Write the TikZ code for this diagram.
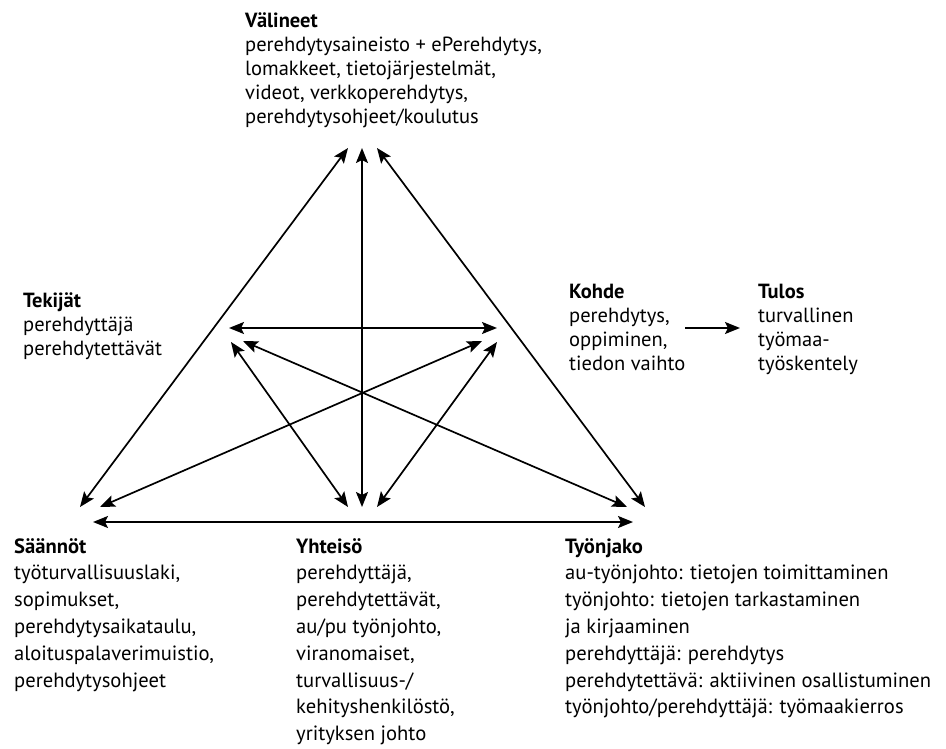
\documentclass[tikz,border=0pt]{standalone}
\usepackage{fontspec}
\setmainfont{PT Sans}
\usetikzlibrary{arrows.meta}

\tikzset{
  lbl/.style={anchor=north west, inner sep=0pt, align=left, font=\fontsize{20.5}{24}\selectfont},
  lowlbl/.style={lbl, font=\fontsize{20.6}{26.8}\selectfont},
  arrtip/.tip={Stealth[length=15pt,width=12pt,inset=3pt]},
  arr/.style={draw, arrtip-arrtip, line width=1.7pt},
  onearr/.style={-arrtip, line width=1.7pt},
}

\begin{document}
\begin{tikzpicture}[x=1pt,y=-1pt]
    \useasboundingbox (0,0) rectangle (946,749);

    % texts
    \node[lbl] (valineet) at (245,13) {\textbf{Välineet}\\perehdytysaineisto + ePerehdytys,\\lomakkeet, tietojärjestelmät,\\videot, verkkoperehdytys,\\perehdytysohjeet/koulutus};
    \node[lbl] (tekijat) at (23,293) {\textbf{Tekijät}\\perehdyttäjä\\perehdytettävät};
    \node[lbl] (kohde) at (569,284) {\textbf{Kohde}\\perehdytys,\\oppiminen,\\tiedon vaihto};
    \node[lbl] (tulos) at (758,284) {\textbf{Tulos}\\turvallinen\\työmaa-\\työskentely};
    \node[lowlbl] (saannot) at (14,538) {\textbf{Säännöt}\\työturvallisuuslaki,\\sopimukset,\\perehdytysaikataulu,\\aloituspalaverimuistio,\\perehdytysohjeet};
    \node[lowlbl] (yhteiso) at (296,538) {\textbf{Yhteisö}\\perehdyttäjä,\\perehdytettävät,\\au/pu työnjohto,\\viranomaiset,\\turvallisuus-/\\kehityshenkilöstö,\\yrityksen johto};
    \node[lowlbl] (tyonjako) at (565,538) {\textbf{Työnjako}\\au-työnjohto: tietojen toimittaminen\\työnjohto: tietojen tarkastaminen\\ja kirjaaminen\\perehdyttäjä: perehdytys\\perehdytettävä: aktiivinen osallistuminen\\työnjohto/perehdyttäjä: työmaakierros};

    % arrow ends
    \coordinate (v1) at (348,148);
    \coordinate (v2) at (362,148);
    \coordinate (v3) at (377,148);
    \coordinate (t1) at (229,328);
    \coordinate (t2) at (231,342);
    \coordinate (t3) at (243,341);
    \coordinate (k1) at (497,328);
    \coordinate (k2) at (482,341);
    \coordinate (k3) at (497,342);
    \coordinate (s1) at (80,507);
    \coordinate (s2) at (100,507);
    \coordinate (s0) at (93,522);
    \coordinate (y1) at (348,507);
    \coordinate (y2) at (362,507);
    \coordinate (y3) at (377,507);
    \coordinate (j1) at (627,507);
    \coordinate (j2) at (645,507);
    \coordinate (j0) at (633,522);
    \coordinate (kt1) at (685,328);
    \coordinate (kt2) at (740,328);

    \path
    (v1) edge[arr] (s1)
    (v2) edge[arr] (y2)
    (v3) edge[arr] (j2)
    (t1) edge[arr] (k1)
    (t2) edge[arr] (y1)
    (t3) edge[arr] (j1)
    (k2) edge[arr] (s2)
    (k3) edge[arr] (y3)
    (s0) edge[arr] (j0)
;
    \draw[onearr] (kt1) -- (kt2);

\end{tikzpicture}
\end{document}
